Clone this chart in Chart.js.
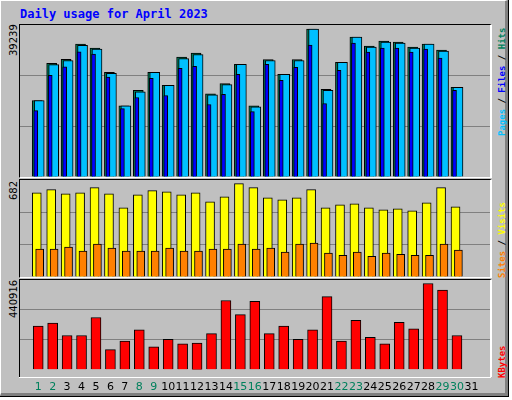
<!DOCTYPE html>
<html><head><meta charset="utf-8">
<script src="https://cdn.jsdelivr.net/npm/chart.js@4/dist/chart.umd.min.js"></script>
<style>
body{margin:0;background:#fff;width:512px;height:400px;overflow:hidden;font-family:'DejaVu Sans Mono',monospace}
#frame{position:absolute;left:0;top:0;width:504px;height:392px;background:#C0C0C0;border-top:1px solid #fff;border-left:1px solid #fff;border-right:3px solid #808080;border-bottom:3px solid #808080;box-shadow:0 0 0 1px #000}
.p{position:absolute;left:19px;width:470px;border-left:1px solid #000;border-top:1px solid #000;border-right:2px solid #fff;border-bottom:1px solid #fff}
#title{position:absolute;left:20px;top:7px;color:#0000FF;font-weight:bold;font-size:12px}
.rl{position:absolute;font-size:10px;line-height:12px;font-family:'DejaVu Sans',sans-serif;transform-origin:left top;transform:rotate(-90deg);white-space:nowrap}
.rr{position:absolute;font-size:9px;line-height:12px;transform-origin:left top;transform:rotate(-90deg);white-space:nowrap;font-weight:bold}
</style></head><body>
<div id="frame"></div>
<div id="title">Daily usage for April 2023</div>
<div class="p" style="top:24px;height:152px"><canvas id="c1" width="470" height="152"></canvas></div>
<div class="p" style="top:179px;height:97px"><canvas id="c2" width="470" height="97"></canvas></div>
<div class="p" style="top:279px;height:97px;border-bottom:none;overflow:visible"><canvas id="c3" width="470" height="117"></canvas></div>
<div style="position:absolute;left:19px;top:377px;width:472px;height:1px;background:#fff"></div>
<div class="rl" style="left:8px;top:56px">39239</div>
<div class="rl" style="left:8px;top:200px">682</div>
<div class="rl" style="left:8px;top:318px">440916</div>
<div class="rr" style="left:496px;top:136px"><span style="color:#00C0FF">Pages</span> / <span style="color:#0000FF">Files</span> / <span style="color:#00805C">Hits</span></div>
<div class="rr" style="left:496px;top:278px"><span style="color:#FF8000">Sites</span> / <span style="color:#FFFF00">Visits</span></div>
<div class="rr" style="left:496px;top:378px"><span style="color:#FF0000">KBytes</span></div>
<script>
const days=[1,2,3,4,5,6,7,8,9,10,11,12,13,14,15,16,17,18,19,20,21,22,23,24,25,26,27,28,29,30];
const tickDays=[1,2,3,4,5,6,7,8,9,10,11,12,13,14,15,16,17,18,19,20,21,22,23,24,25,26,27,28,29,30,31];
const weekendDays=[1,2,8,9,15,16,22,23,29,30];
const hits=[19750,29370,30400,34300,33270,27030,18370,22350,27030,23650,30930,31970,21490,24090,29110,18370,30330,26510,30330,38200,22610,29630,36130,33790,35090,34830,33530,34310,32750,23130];
const files=[19750,29030,30070,33970,33000,26770,18370,22010,27030,23650,30590,31630,21230,23830,29110,18110,30070,26510,30070,38200,22350,29630,36130,33530,34830,34570,33270,34310,32490,23130];
const pages=[17150,26250,28410,32310,31700,25800,17670,20530,25470,21050,28070,28590,18710,21310,26510,16890,29110,24950,28330,34050,18970,27550,34570,32230,33270,33270,32230,33010,30670,22350];
const visits=[592,614,585,592,628,585,486,578,607,599,578,592,529,564,656,628,557,543,557,614,486,507,514,486,472,479,465,522,628,493];
const sites=[196,196,210,182,231,203,182,182,182,203,182,182,196,196,231,196,203,175,231,238,168,153,175,146,168,160,153,153,231,189];
const kbytes=[215000,229000,168600,168600,256800,99000,140800,196500,112900,150100,126900,131500,177900,340300,270700,335700,177900,215000,150100,196500,358900,140800,242900,159300,126900,233600,201100,423900,391400,168600];
const maxTop=39239,maxMid=682,maxBot=440916;

function pts(arr,off){return arr.map((v,i)=>({x:days[i]+off,y:v}));}
function ds(arr,off,color,th){return {data:pts(arr,off),backgroundColor:color,borderColor:'#000',borderWidth:1,barThickness:th,grouped:false,borderSkipped:'bottom'};}
function opts(max,showX){
  return {responsive:false,animation:false,devicePixelRatio:1,
    layout:{padding:0},
    plugins:{legend:{display:false},tooltip:{enabled:false}},
    scales:{
      x:{type:'linear',min:0.263,max:31.763,display:showX,grid:{display:false},border:{display:false},
        afterBuildTicks:s=>{s.ticks=tickDays.map(v=>({value:v}));},
        ticks:{autoSkip:false,maxRotation:0,padding:3,font:{family:'DejaVu Sans',size:11},
          color:c=>weekendDays.includes(c.tick.value)?'#00805C':'#000'}},
      y:{min:0,max:max,afterFit:s=>{s.width=0;},afterBuildTicks:s=>{s.ticks=[0,max/3,2*max/3,max].map(v=>({value:v}));},
        ticks:{display:false},border:{display:false},
        grid:{drawTicks:false,color:c=>(c.index===1||c.index===2)?'#808080':'rgba(0,0,0,0)'}}
    }};
}
new Chart(document.getElementById('c1'),{type:'bar',data:{datasets:[
  ds(pages,-0.17,'#0000FF',4),
  ds(files,0.07,'#00C0FF',10),
  ds(hits,-0.07,'#00805C',10)
]},options:opts(maxTop,false)});
new Chart(document.getElementById('c2'),{type:'bar',data:{datasets:[
  ds(sites,0.1,'#FF8000',8),
  ds(visits,-0.1,'#FFFF00',9)
]},options:opts(maxMid,false)});
new Chart(document.getElementById('c3'),{type:'bar',data:{datasets:[
  ds(kbytes,0,'#FF0000',10)
]},options:opts(maxBot,true)});
</script>
</body></html>
